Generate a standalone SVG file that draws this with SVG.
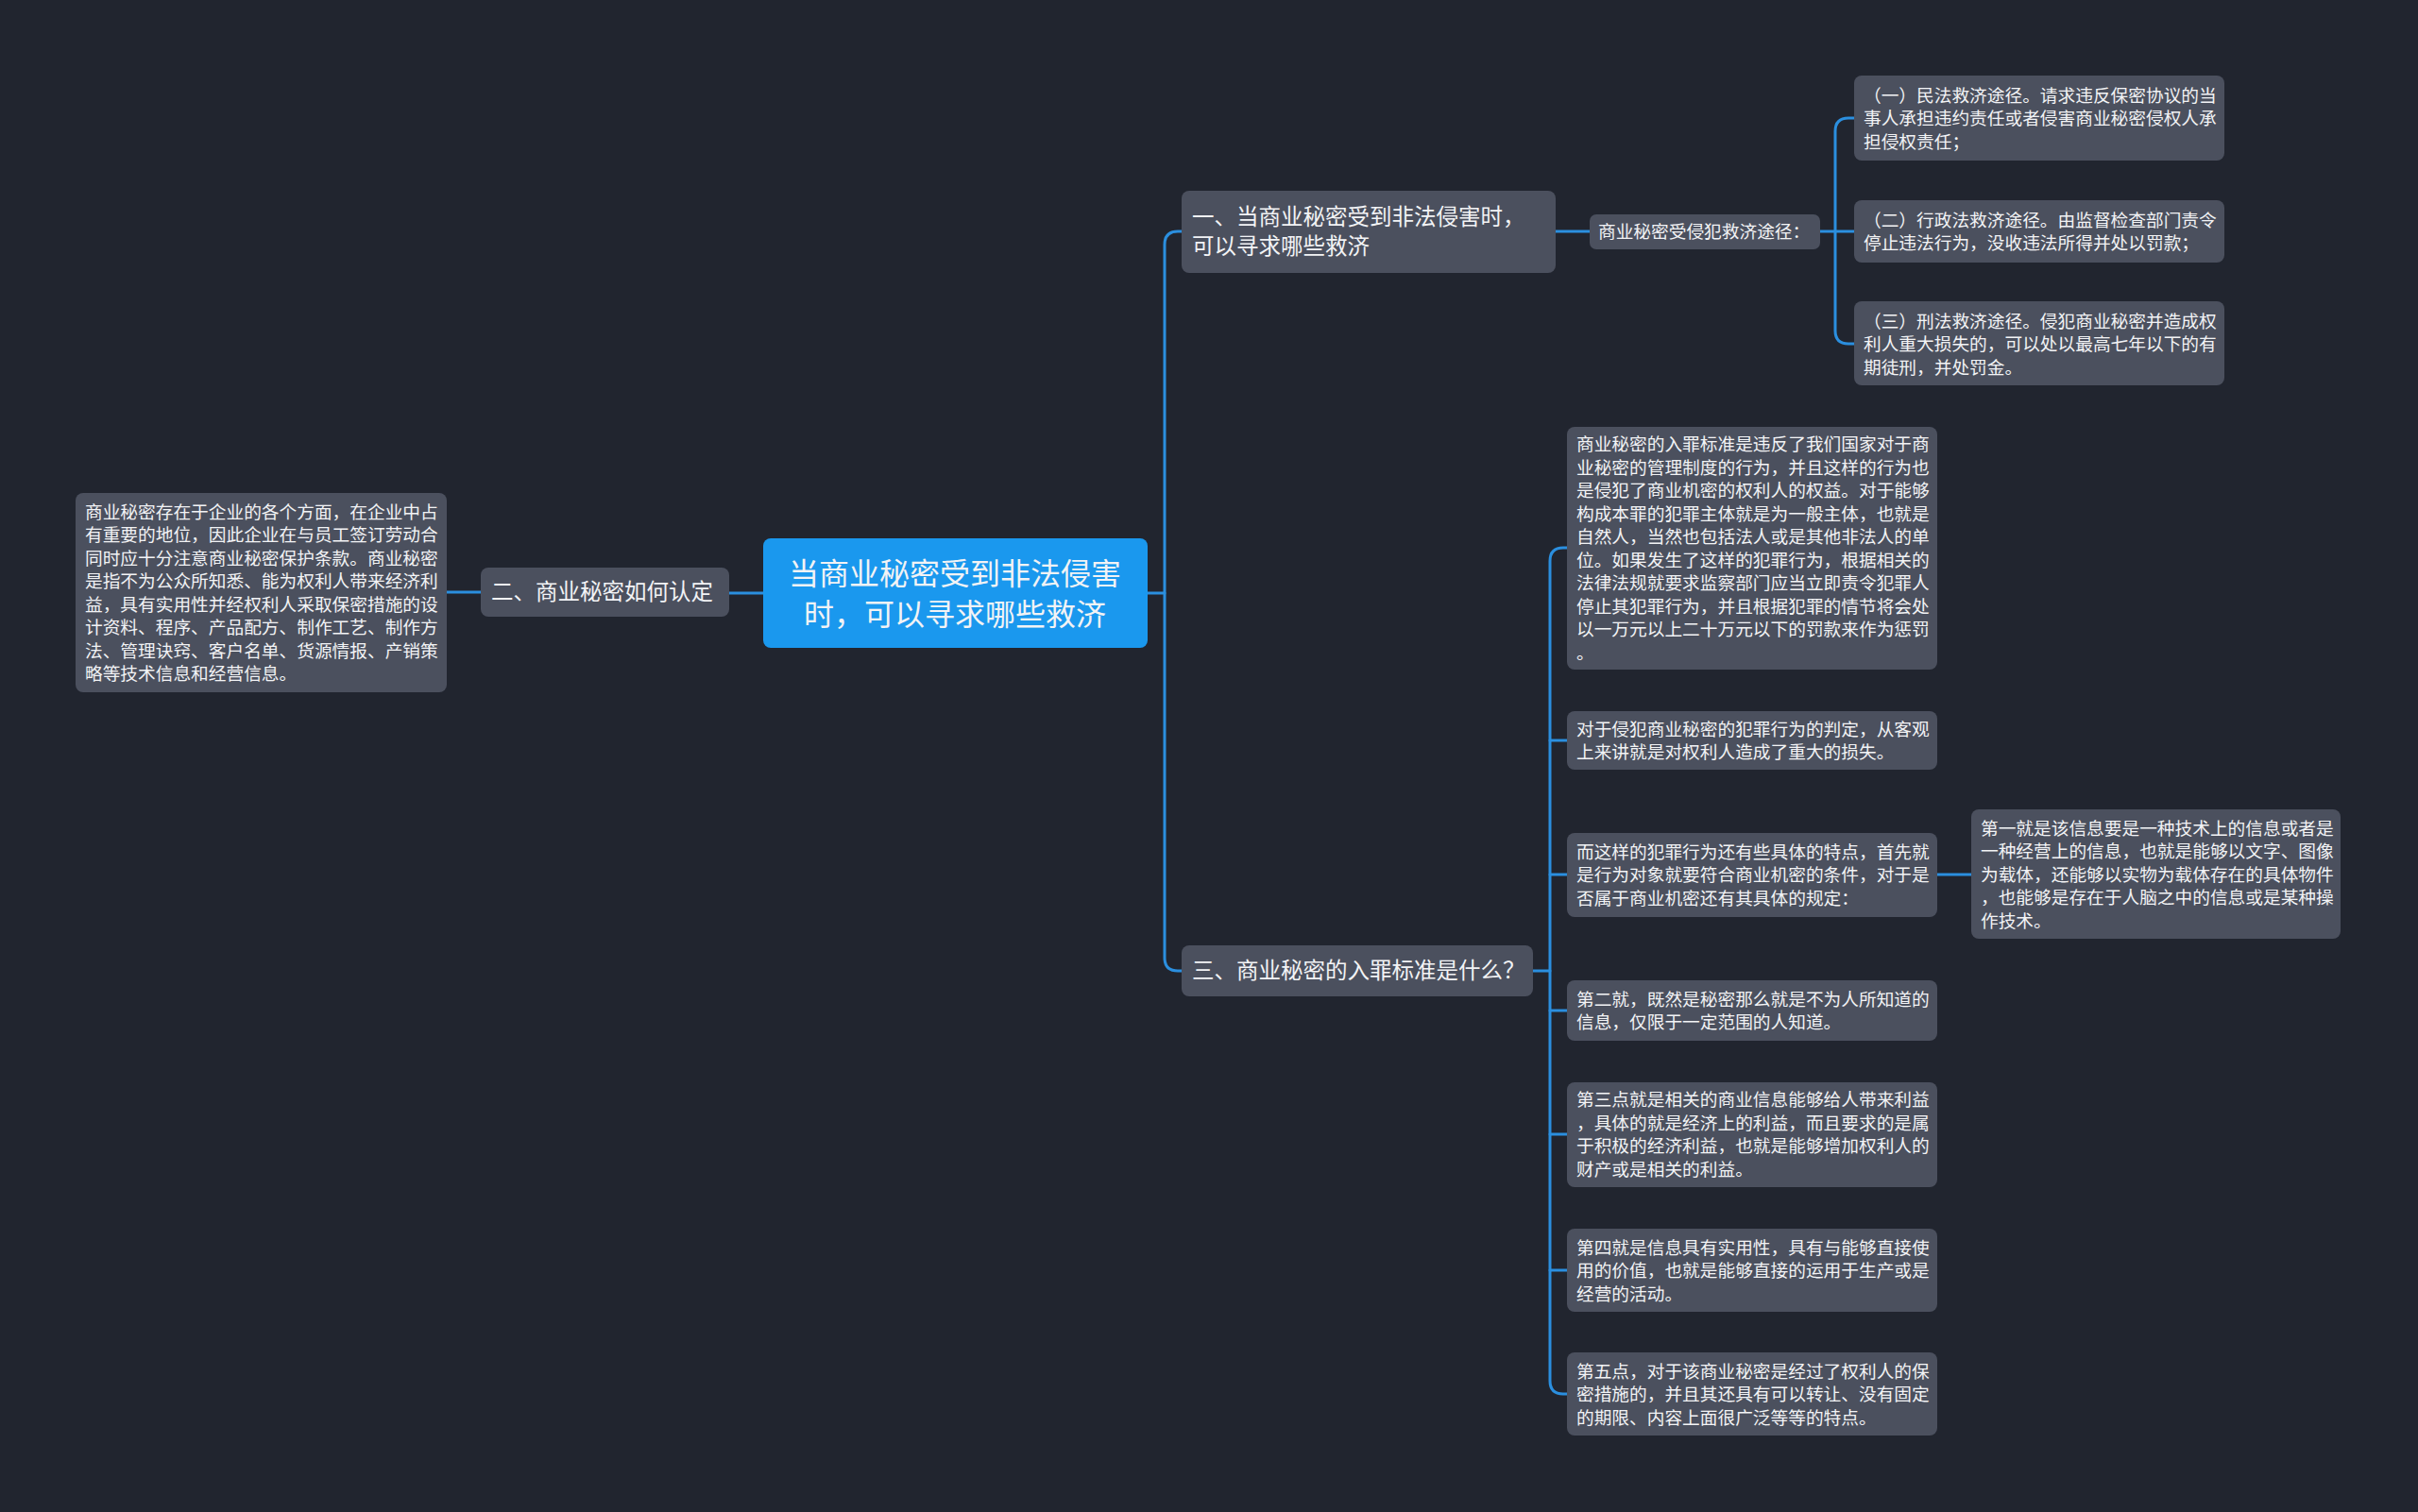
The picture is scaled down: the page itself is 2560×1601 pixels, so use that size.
<svg xmlns="http://www.w3.org/2000/svg" width="2560" height="1601" viewBox="0 0 2560 1601">
<style>
text{font-family:"Noto Sans CJK SC","Noto Sans",sans-serif;fill:#f2f3f5;dominant-baseline:central;transform:translateY(-2px)}
.n{fill:#4b505e}
.c{fill:#1a98ee}
.t{font-size:18.7px}
.m{font-size:23.5px}
.b{font-size:32px;text-anchor:middle}
.ln{fill:none;stroke:#2b8fdf;stroke-width:3;stroke-linecap:round}
</style>
<rect width="2560" height="1601" fill="#21252f"/>
<g id="connectors" class="ln">
<path d="M808,628 H772"/>
<path d="M509,627 H473"/>
<path d="M1215,628 H1233"/>
<path d="M1251,245 H1247 Q1233,245 1233,259 V1014 Q1233,1028 1247,1028 H1251"/>
<path d="M1647,245 H1683"/>
<path d="M1927,245 H1963"/>
<path d="M1963,125 H1957 Q1943,125 1943,139 V350 Q1943,364 1957,364 H1963"/>
<path d="M1623,1028 H1641"/>
<path d="M1659,580 H1655 Q1641,580 1641,594 V1462 Q1641,1476 1655,1476 H1659"/>
<path d="M1641,784 H1659"/>
<path d="M1641,926 H1659"/>
<path d="M1641,1070 H1659"/>
<path d="M1641,1201 H1659"/>
<path d="M1641,1345 H1659"/>
<path d="M2051,926 H2087"/>
</g>
<g id="root">
<rect class="c" x="808" y="570" width="407" height="116" rx="8"/>
<text class="b" x="1011" y="607">当商业秘密受到非法侵害</text>
<text class="b" x="1011" y="650">时，可以寻求哪些救济</text>
</g>
<g id="n2">
<rect class="n" x="509" y="601" width="263" height="52" rx="8"/>
<text class="m" x="520" y="627">二、商业秘密如何认定</text>
</g>
<g id="n2-1">
<rect class="n" x="80" y="522" width="393" height="211" rx="8"/>
<text class="t" x="90" y="542">商业秘密存在于企业的各个方面，在企业中占</text>
<text class="t" x="90" y="566.5">有重要的地位，因此企业在与员工签订劳动合</text>
<text class="t" x="90" y="591">同时应十分注意商业秘密保护条款。商业秘密</text>
<text class="t" x="90" y="615.5">是指不为公众所知悉、能为权利人带来经济利</text>
<text class="t" x="90" y="640">益，具有实用性并经权利人采取保密措施的设</text>
<text class="t" x="90" y="664.5">计资料、程序、产品配方、制作工艺、制作方</text>
<text class="t" x="90" y="689">法、管理诀窍、客户名单、货源情报、产销策</text>
<text class="t" x="90" y="713.5">略等技术信息和经营信息。</text>
</g>
<g id="n1">
<rect class="n" x="1251" y="202" width="396" height="87" rx="8"/>
<text class="m" x="1262" y="230">一、当商业秘密受到非法侵害时，</text>
<text class="m" x="1262" y="261">可以寻求哪些救济</text>
</g>
<g id="n1-1">
<rect class="n" x="1683" y="227" width="244" height="37" rx="7"/>
<text class="t" x="1692" y="245.5">商业秘密受侵犯救济途径：</text>
</g>
<g id="n1-1-1">
<rect class="n" x="1963" y="80" width="392" height="90" rx="8"/>
<text class="t" x="1973" y="101">（一）民法救济途径。请求违反保密协议的当</text>
<text class="t" x="1973" y="125.5">事人承担违约责任或者侵害商业秘密侵权人承</text>
<text class="t" x="1973" y="150">担侵权责任；</text>
</g>
<g id="n1-1-2">
<rect class="n" x="1963" y="212" width="392" height="66" rx="8"/>
<text class="t" x="1973" y="233">（二）行政法救济途径。由监督检查部门责令</text>
<text class="t" x="1973" y="257.5">停止违法行为，没收违法所得并处以罚款；</text>
</g>
<g id="n1-1-3">
<rect class="n" x="1963" y="319" width="392" height="89" rx="8"/>
<text class="t" x="1973" y="340">（三）刑法救济途径。侵犯商业秘密并造成权</text>
<text class="t" x="1973" y="364.5">利人重大损失的，可以处以最高七年以下的有</text>
<text class="t" x="1973" y="389">期徒刑，并处罚金。</text>
</g>
<g id="n3">
<rect class="n" x="1251" y="1001" width="372" height="54" rx="8"/>
<text class="m" x="1262" y="1028">三、商业秘密的入罪标准是什么？</text>
</g>
<g id="n3-1">
<rect class="n" x="1659" y="452" width="392" height="257" rx="8"/>
<text class="t" x="1669" y="470.5">商业秘密的入罪标准是违反了我们国家对于商</text>
<text class="t" x="1669" y="495">业秘密的管理制度的行为，并且这样的行为也</text>
<text class="t" x="1669" y="519.5">是侵犯了商业机密的权利人的权益。对于能够</text>
<text class="t" x="1669" y="544">构成本罪的犯罪主体就是为一般主体，也就是</text>
<text class="t" x="1669" y="568.5">自然人，当然也包括法人或是其他非法人的单</text>
<text class="t" x="1669" y="593">位。如果发生了这样的犯罪行为，根据相关的</text>
<text class="t" x="1669" y="617.5">法律法规就要求监察部门应当立即责令犯罪人</text>
<text class="t" x="1669" y="642">停止其犯罪行为，并且根据犯罪的情节将会处</text>
<text class="t" x="1669" y="666.5">以一万元以上二十万元以下的罚款来作为惩罚</text>
<text class="t" x="1669" y="691">。</text>
</g>
<g id="n3-2">
<rect class="n" x="1659" y="753" width="392" height="62" rx="8"/>
<text class="t" x="1669" y="772">对于侵犯商业秘密的犯罪行为的判定，从客观</text>
<text class="t" x="1669" y="796.5">上来讲就是对权利人造成了重大的损失。</text>
</g>
<g id="n3-3">
<rect class="n" x="1659" y="882" width="392" height="89" rx="8"/>
<text class="t" x="1669" y="902">而这样的犯罪行为还有些具体的特点，首先就</text>
<text class="t" x="1669" y="926.5">是行为对象就要符合商业机密的条件，对于是</text>
<text class="t" x="1669" y="951">否属于商业机密还有其具体的规定：</text>
</g>
<g id="n3-3-1">
<rect class="n" x="2087" y="857" width="391" height="137" rx="8"/>
<text class="t" x="2097" y="877">第一就是该信息要是一种技术上的信息或者是</text>
<text class="t" x="2097" y="901.5">一种经营上的信息，也就是能够以文字、图像</text>
<text class="t" x="2097" y="926">为载体，还能够以实物为载体存在的具体物件</text>
<text class="t" x="2097" y="950.5">，也能够是存在于人脑之中的信息或是某种操</text>
<text class="t" x="2097" y="975">作技术。</text>
</g>
<g id="n3-4">
<rect class="n" x="1659" y="1038" width="392" height="64" rx="8"/>
<text class="t" x="1669" y="1058">第二就，既然是秘密那么就是不为人所知道的</text>
<text class="t" x="1669" y="1082.5">信息，仅限于一定范围的人知道。</text>
</g>
<g id="n3-5">
<rect class="n" x="1659" y="1146" width="392" height="111" rx="8"/>
<text class="t" x="1669" y="1164.5">第三点就是相关的商业信息能够给人带来利益</text>
<text class="t" x="1669" y="1189">，具体的就是经济上的利益，而且要求的是属</text>
<text class="t" x="1669" y="1213.5">于积极的经济利益，也就是能够增加权利人的</text>
<text class="t" x="1669" y="1238">财产或是相关的利益。</text>
</g>
<g id="n3-6">
<rect class="n" x="1659" y="1301" width="392" height="88" rx="8"/>
<text class="t" x="1669" y="1321">第四就是信息具有实用性，具有与能够直接使</text>
<text class="t" x="1669" y="1345.5">用的价值，也就是能够直接的运用于生产或是</text>
<text class="t" x="1669" y="1370">经营的活动。</text>
</g>
<g id="n3-7">
<rect class="n" x="1659" y="1432" width="392" height="88" rx="8"/>
<text class="t" x="1669" y="1452">第五点，对于该商业秘密是经过了权利人的保</text>
<text class="t" x="1669" y="1476.5">密措施的，并且其还具有可以转让、没有固定</text>
<text class="t" x="1669" y="1501">的期限、内容上面很广泛等等的特点。</text>
</g>
</svg>
